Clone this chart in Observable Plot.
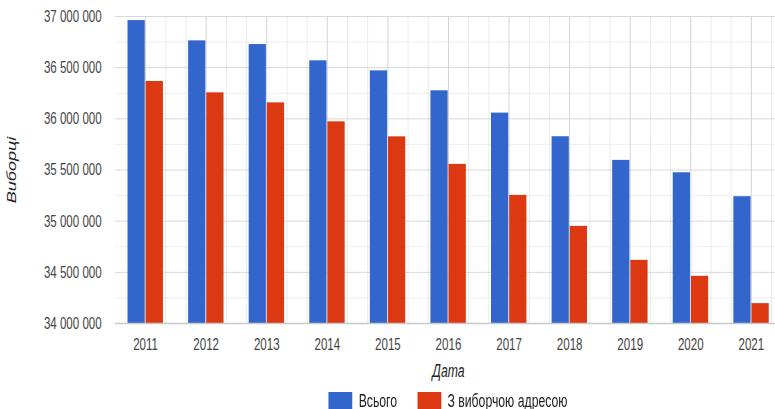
<!DOCTYPE html>
<html>
<head>
<meta charset="utf-8">
<script src="https://cdn.jsdelivr.net/npm/d3@7"></script>
<script src="https://cdn.jsdelivr.net/npm/@observablehq/plot@0.6"></script>
<style>
  html, body { margin: 0; padding: 0; overflow: hidden; background: #fff; }
  #wrap {
    position: relative; width: 1149px; height: 409px;
    transform: scaleX(0.68); transform-origin: 0 0;
    font-family: "Liberation Sans", Arial, sans-serif;
  }
  #chart svg { display: block; }
  #legend {
    position: absolute; top: 392px; left: 169px; width: 980px; height: 18px;
    display: flex; justify-content: center; align-items: center;
    font-size: 18px; color: #222;
  }
  .item { display: flex; align-items: center; margin: 0 15px; }
  .sw { width: 35px; height: 18px; margin-right: 9px; }
</style>
</head>
<body>
<div id="wrap"><div id="chart"></div><div id="legend"></div></div>
<script>
const years = [2011, 2012, 2013, 2014, 2015, 2016, 2017, 2018, 2019, 2020, 2021];
const totalVoters = [36960000, 36762000, 36726000, 36567000, 36469000, 36274000, 36056000, 35825000, 35594000, 35473000, 35239000];
const withAddress = [36365000, 36254000, 36156000, 35971000, 35824000, 35555000, 35252000, 34949000, 34617000, 34461000, 34194000];
const seriesNames = ["Всього", "З виборчою адресою"];
const seriesColors = ["#3366cc", "#dc3912"];
const yTicks = [34000000, 34500000, 35000000, 35500000, 36000000, 36500000, 37000000];
const yMinorTicks = [34250000, 34750000, 35250000, 35750000, 36250000, 36750000];
const xTitle = "Дата";
const yTitle = "Виборці";

const yDomain = [34000000, 37000000];
const barW = 0.3;
const sx = 0.68;

const rows = years.flatMap((yr, i) => [
  {year: yr, series: seriesNames[0], value: totalVoters[i], side: -1},
  {year: yr, series: seriesNames[1], value: withAddress[i], side: 1}
]);
const xMinorGrid = years.flatMap(yr => [yr + 1/3, yr + 2/3]);
const fmt = v => d3.format(",")(v).replace(/,/g, "\u00a0");

const chart = Plot.plot({
  width: 1149,
  height: 385,
  marginLeft: 169,
  marginRight: 0,
  marginTop: 16,
  marginBottom: 62,
  style: {fontFamily: "'Liberation Sans', Arial, sans-serif", fontSize: "17px", color: "#444", background: "#fff"},
  x: {type: "linear", domain: [years[0] - 0.5, years[years.length - 1] + 0.5]},
  y: {domain: yDomain},
  color: {domain: seriesNames, range: seriesColors},
  marks: [
    Plot.ruleY(yMinorTicks, {stroke: "#ebebeb"}),
    Plot.ruleX(xMinorGrid, {stroke: "#ebebeb", strokeWidth: 1 / sx}),
    Plot.ruleX(years, {stroke: "#d4d4d4", strokeWidth: 1 / sx}),
    Plot.ruleY(yTicks, {stroke: "#d0d0d0"}),
    Plot.rectY(rows, {
      x1: d => d.side < 0 ? d.year - barW : d.year,
      x2: d => d.side < 0 ? d.year : d.year + barW,
      y1: d => yDomain[0],
      y2: "value",
      fill: "series",
      insetLeft: 0.7, insetRight: 0.7
    }),
    Plot.ruleY([yDomain[0]], {stroke: "#c8c8c8", strokeWidth: 1.3}),
    Plot.axisY(yTicks, {tickSize: 0, tickPadding: 20, tickFormat: fmt, label: null, fill: "#444"}),
    Plot.axisX(years, {tickSize: 0, tickPadding: 14, tickFormat: d => String(d), label: null, fill: "#444"}),
    Plot.text([yTitle], {text: d => d, frameAnchor: "left", dx: -152, rotate: -90, textAnchor: "middle", lineAnchor: "middle", fontStyle: "italic", fontSize: 18, fill: "#222"}),
    Plot.text([xTitle], {text: d => d, frameAnchor: "bottom", dy: 48, textAnchor: "middle", lineAnchor: "middle", fontStyle: "italic", fontSize: 18, fill: "#222"})
  ]
});
document.getElementById("chart").appendChild(chart);

const legend = document.getElementById("legend");
seriesNames.forEach((name, i) => {
  const item = document.createElement("div");
  item.className = "item";
  const sw = document.createElement("span");
  sw.className = "sw";
  sw.style.background = seriesColors[i];
  const label = document.createElement("span");
  label.textContent = name;
  item.appendChild(sw);
  item.appendChild(label);
  legend.appendChild(item);
});
</script>
</body>
</html>
